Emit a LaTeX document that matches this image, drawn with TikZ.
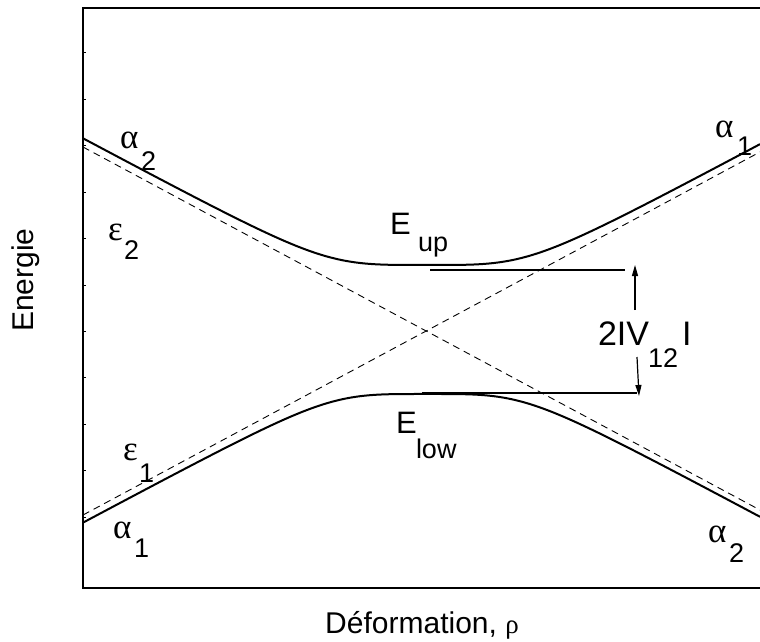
\documentclass[tikz,border=0pt]{standalone}
\usepackage{fontspec}
\setmainfont{Liberation Sans}
\newfontfamily\grk{Liberation Serif}
\usetikzlibrary{arrows.meta}
\begin{document}
\begin{tikzpicture}[x=1pt,y=-1pt,
  lbl/.style={anchor=base west, inner sep=0pt, outer sep=0pt},
  mainlbl/.style={lbl, font=\fontsize{31}{36}\selectfont},
  sublbl/.style={lbl, font=\fontsize{27}{32}\selectfont},
  greek/.style={lbl, font=\grk\fontsize{35}{40}\selectfont},
  axisline/.style={line width=2.5pt},
  adiab/.style={line width=2pt},
  diab/.style={line width=0.9pt, dash pattern=on 7pt off 5pt},
  level/.style={line width=1.2pt},
  gap/.style={line width=1.2pt, -{Triangle[length=11pt,width=6pt]}},
  declare function={
    dd(\t)=0.00536*(\t-427);
    upc(\t)=323-100*sqrt(sqrt(0.1132+(dd(\t)*dd(\t))*(dd(\t)*dd(\t))));
    loc(\t)=338+100*sqrt(sqrt(0.0983+(dd(\t)*dd(\t))*(dd(\t)*dd(\t))));
  }]
\useasboundingbox (0,0) rectangle (760,642);

% frame
\draw[axisline] (760,8) -- (83,8) -- (83,588) -- (760,588);
\foreach \k in {0,...,10}
  \draw[line width=1pt] (83,{53+46.4*\k}) -- (86,{53+46.4*\k});

% diabatic (dashed) lines
\coordinate (d2a) at (83,147);
\coordinate (d2b) at (760,510);
\coordinate (d1a) at (83,515);
\coordinate (d1b) at (760,152);
\draw[diab] (d2a) -- (d2b);
\draw[diab] (d1a) -- (d1b);

% adiabatic curves
\begin{scope}
\clip (83,0) rectangle (760,642);
\draw[adiab] plot[domain=83:760, samples=200, smooth] (\x,{upc(\x)});
\draw[adiab] plot[domain=83:760, samples=200, smooth] (\x,{loc(\x)});
\end{scope}

% level lines and gap arrows
\coordinate (ua) at (430,270);
\coordinate (ub) at (625,270);
\coordinate (la) at (422,393);
\coordinate (lb) at (637,393);
\draw[level] (ua) -- (ub);
\draw[level] (la) -- (lb);
\coordinate (aus) at (635,310);
\coordinate (aue) at (635,265);
\coordinate (als) at (637,357);
\coordinate (ale) at (639,396);
\draw[gap] (aus) -- (aue);
\draw[gap] (als) -- (ale);

% labels
\node[greek] (a2l) at (120,148) {α};
\node[sublbl] (a2ls) at (141,170) {2};
\node[greek] (e2) at (108,240) {ε};
\node[sublbl] (e2s) at (124,259) {2};
\node[greek] (e1) at (123,460) {ε};
\node[sublbl] (e1s) at (139,482) {1};
\node[greek] (a1l) at (113,538) {α};
\node[sublbl] (a1ls) at (134,557) {1};
\node[greek] (a1r) at (715,137) {α};
\node[sublbl] (a1rs) at (737,155) {1};
\node[greek] (a2r) at (708,542) {α};
\node[sublbl] (a2rs) at (729,562) {2};

\node[mainlbl] (eup) at (390,234) {E};
\node[sublbl] (eups) at (418,251) {up};
\node[mainlbl] (elow) at (396,433) {E};
\node[sublbl] (elows) at (416,458) {low};

\node[lbl, font=\fontsize{34}{40}\selectfont] (gap) at (598,345) {2IV};
\node[sublbl] (gaps) at (648,367) {12};
\node[lbl, font=\fontsize{34}{40}\selectfont] (gapr) at (682,345) {I};

% axis titles
\node[anchor=base, inner sep=0pt, rotate=90, font=\fontsize{30}{36}\selectfont] (ylab) at (33,280) {Energie};
\node[anchor=base, inner sep=0pt, font=\fontsize{30}{36}\selectfont] (xlab) at (422,633) {Déformation, {\grk\fontsize{27}{30}\selectfont ρ}};
\end{tikzpicture}
\end{document}
